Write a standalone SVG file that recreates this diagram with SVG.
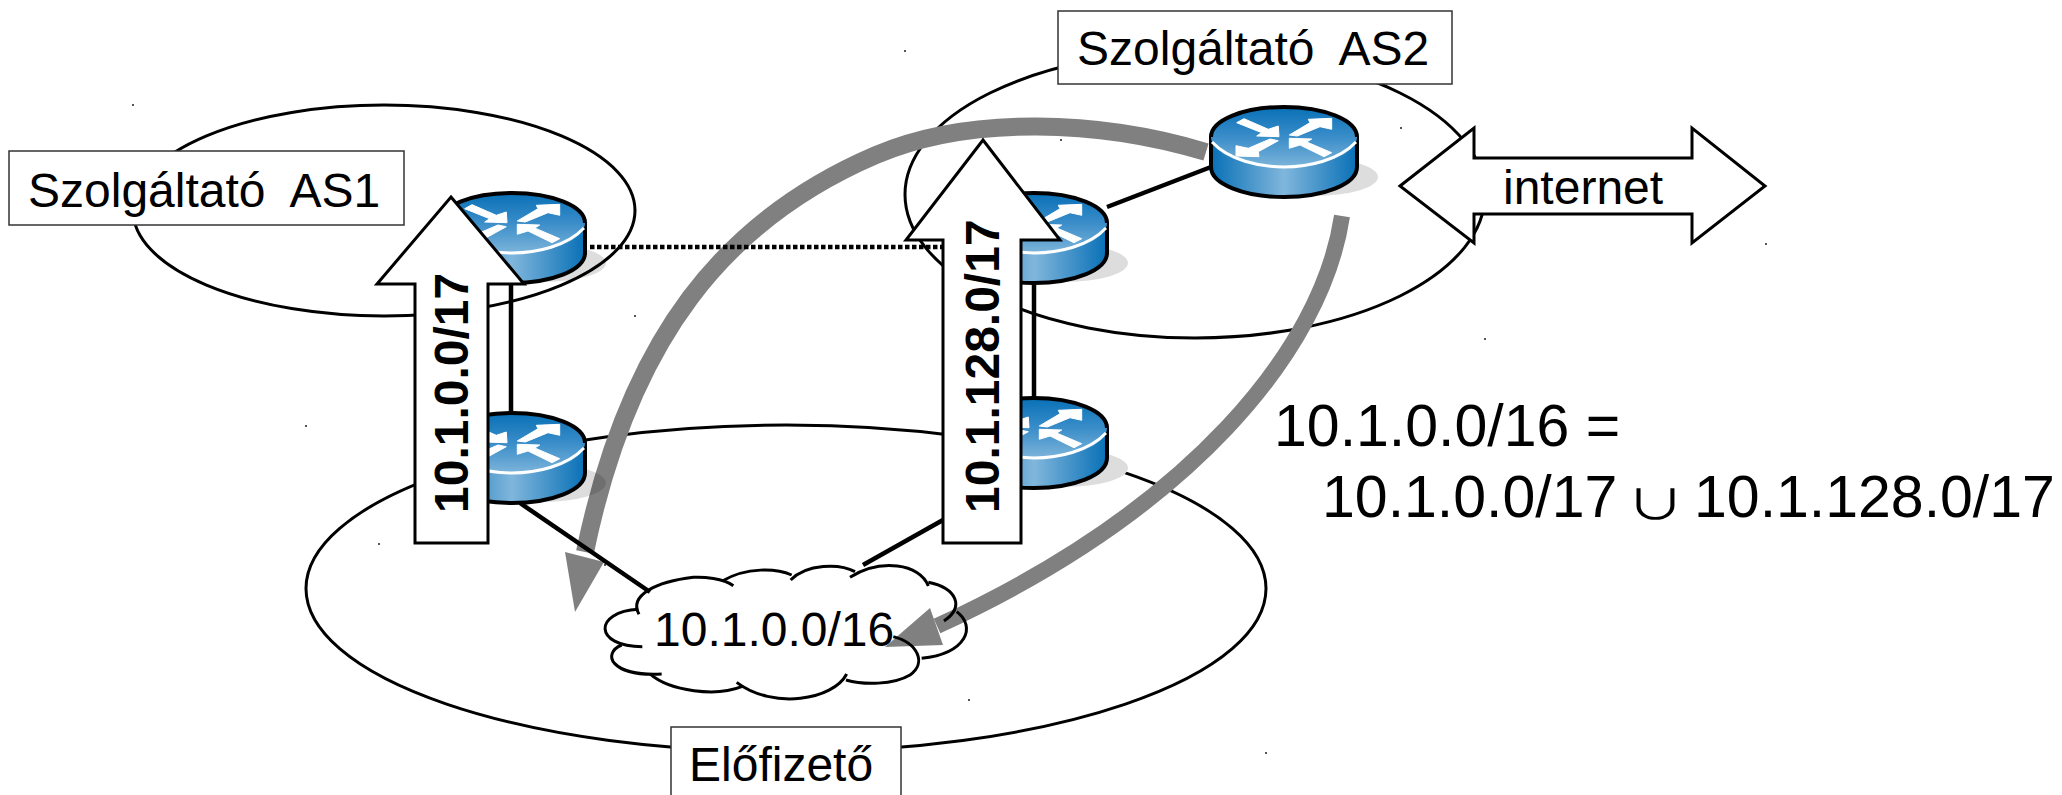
<svg xmlns="http://www.w3.org/2000/svg" width="2062" height="795" viewBox="0 0 2062 795">
<style>
text{font-family:"Liberation Sans",Arial,sans-serif;font-size:48px;fill:#000;white-space:pre}
.ell{fill:none;stroke:#000;stroke-width:3}
.lab{fill:#fff;stroke:#333;stroke-width:1.5}
.big{font-size:59px}
.sym{font-family:"Noto Sans CJK SC",sans-serif}
.bold{font-weight:bold}
.arr{fill:#fff;stroke:#000;stroke-width:3;stroke-linejoin:miter}
.gr{fill:none;stroke:#808080}
.grh{fill:#808080}
.con{stroke:#000;stroke-width:4.5;fill:none}
.lobe{fill:none;stroke:#000;stroke-width:9}
.sp{fill:#555}
</style>
<defs>
<linearGradient id="gt" x1="0" y1="0" x2="0" y2="1"><stop offset="0" stop-color="#0870b6"/><stop offset=".5" stop-color="#3a8dc9"/><stop offset="1" stop-color="#7cb4da"/></linearGradient>
<linearGradient id="gs" x1="0" y1="0" x2="1" y2="0"><stop offset="0" stop-color="#0870b6"/><stop offset=".5" stop-color="#80b6dc"/><stop offset="1" stop-color="#0870b6"/></linearGradient>
<g id="rt">
<path d="M-73 0V30C-73 47-40 60 0 60S73 47 73 30V0Z" fill="url(#gs)"/>
<path d="M-73 0V30C-73 47-40 60 0 60S73 47 73 30V0" fill="none" stroke="#000" stroke-width="4"/>
<ellipse cx="0" cy="0" rx="73" ry="30" fill="url(#gt)"/>
<path d="M-73 0C-73 -17-40 -30 0 -30S73 -17 73 0" fill="none" stroke="#000" stroke-width="4"/>
<path d="M-72 5C-55 23-25 30 0 30S55 23 72 5" fill="none" stroke="#fff" stroke-width="3"/>
<g fill="#fff" stroke="#fff" stroke-width="1">
<polygon points="-47.3,-14.3 -40,-18.3 -15.7,-7.7 -5.7,-11 -5,-.3 -27.3,-1 -22.3,-4.3"/>
<polygon points="5.3,-2 26,-14.3 24.3,-17.7 47.7,-18.7 47.7,-7.7 36,-10.3 13.3,-1"/>
<polygon points="-5.7,3.7 -25.7,14.7 -25,19.7 -48,19 -48,8.7 -35.7,11.3 -14,2"/>
<polygon points="47.7,15.7 40,19.7 16,8 5.3,11.3 5.3,1.3 27.7,2 22.7,5"/>
</g>
</g>
</defs>
<rect width="2062" height="795" fill="#fff"/>

<g id="domains">
<ellipse id="as1-area" class="ell" cx="384" cy="210.500" rx="251" ry="105.500"/>
<ellipse id="as2-area" class="ell" cx="1195" cy="194.500" rx="290" ry="143.500"/>
<ellipse id="sub-area" class="ell" cx="786" cy="588.500" rx="480" ry="163.500"/>
</g>

<g id="marks" class="sp">
<rect x="132" y="104" width="2" height="2"/><rect x="904" y="50" width="2" height="2"/><rect x="1060" y="139" width="2" height="2"/>
<rect x="1400" y="127" width="2" height="2"/><rect x="634" y="315" width="2" height="2"/><rect x="968" y="699" width="2" height="2"/>
<rect x="604" y="564" width="2" height="2"/><rect x="1765" y="243" width="2" height="2"/><rect x="1484" y="338" width="2" height="2"/>
<rect x="1265" y="752" width="2" height="2"/><rect x="378" y="543" width="2" height="2"/><rect x="305" y="425" width="2" height="2"/>
</g>

<g id="cloud">
<g transform="translate(560 520) scale(.33333)">
<path fill="#fff" d="M237 280C205 225 290 185 400 172C430 170 470 175 487 183C560 140 650 145 695 165C740 130 840 130 885 155C960 115 1080 130 1105 190C1190 205 1215 245 1190 275C1250 320 1220 400 1085 415C1080 450 1000 500 858 480C820 540 640 570 540 500C470 530 330 515 270 462C150 470 125 400 185 375C100 350 120 275 235 268Z"/>
</g>
</g>

<g id="connectors">
<path class="gr" stroke-width="18" d="M1206 152C1100 120 970 115 876 155C724 220 629 339 585 552"/>
<polygon class="grh" points="565,552 575,612 604,562"/>
<path class="gr" stroke-width="16" d="M1342 216C1322 350 1190 510 937 626"/>
<polygon class="grh" points="930,608 943,645 885,647"/>
<path class="con" d="M511 284V413"/>
<path class="con" d="M1034 284V398"/>
<path class="con" d="M1107 207L1211 167"/>
<path class="con" d="M520 503L650 592"/>
<path class="con" d="M863 565L943 520"/>
<path d="M590 247H943" fill="none" stroke="#000" stroke-width="4.500" stroke-dasharray="4.500 2.500"/>
</g>

<g id="cloud-outline">
<g transform="translate(560 520) scale(.33333)" >
<path class="lobe" d="M237 283C205 225 290 185 400 172C430 170 490 175 520 197"/>
<path class="lobe" d="M487 183C560 140 650 145 695 165"/>
<path class="lobe" d="M692 180C740 130 840 130 885 155"/>
<path class="lobe" d="M870 172C960 115 1080 130 1105 198"/>
<path class="lobe" d="M1105 187C1190 205 1215 260 1152 303"/>
<path class="lobe" d="M1190 275C1250 320 1220 400 1085 415"/>
<path class="lobe" d="M1000 350C1075 370 1100 430 1050 465C1000 495 910 495 858 480"/>
<path class="lobe" d="M860 462C820 540 640 570 530 487"/>
<path class="lobe" d="M545 500C470 530 330 515 270 462"/>
<path class="lobe" d="M305 462C150 470 125 400 185 375"/>
<path class="lobe" d="M247 380C100 380 100 275 235 268"/>
</g>
<text id="cloud-label" x="654" y="646">10.1.0.0/16</text>
</g>

<g id="router-as2-edge"><ellipse cx="1314" cy="177" rx="64" ry="19" fill="#000" opacity=".135"/><use href="#rt" x="1284" y="137"/></g>
<g id="router-as1"><ellipse cx="542" cy="263" rx="64" ry="19" fill="#000" opacity=".135"/><use href="#rt" x="512" y="223"/></g>
<g id="router-sub-left"><ellipse cx="542" cy="483" rx="64" ry="19" fill="#000" opacity=".135"/><use href="#rt" x="512" y="443"/></g>
<g id="router-as2"><ellipse cx="1064" cy="263" rx="64" ry="19" fill="#000" opacity=".135"/><use href="#rt" x="1034" y="223"/></g>
<g id="router-sub-right"><ellipse cx="1064" cy="468" rx="64" ry="19" fill="#ddd"/><use href="#rt" x="1034" y="428"/></g>

<g id="prefix-as1">
<polygon class="arr" points="451,197 524,284 488,284 488,543 415,543 415,284 377,284"/>
<text class="bold" transform="translate(468 513) rotate(-90)">10.1.0.0/17</text>
</g>
<g id="prefix-as2">
<polygon class="arr" points="983,140 1060,240 1021,240 1021,543 943,543 943,240 906,240"/>
<text class="bold" transform="translate(999 513) rotate(-90)">10.1.128.0/17</text>
</g>

<g id="internet">
<polygon class="arr" points="1400,186 1474,128 1474,158 1692,158 1692,128 1765,186 1692,243 1692,214 1474,214 1474,243"/>
<text x="1503" y="204">internet</text>
</g>

<g id="label-as1"><rect class="lab" x="9" y="151" width="395" height="74"/><text x="28" y="207">Szolgáltató  AS1</text></g>
<g id="label-as2"><rect class="lab" x="1058" y="11" width="394" height="73"/><text x="1077" y="65">Szolgáltató  AS2</text></g>
<g id="label-sub"><rect class="lab" x="671" y="727" width="230" height="80"/><text x="689" y="781">Előfizető</text></g>

<g id="equation">
<text class="big" x="1274" y="446">10.1.0.0/16 =</text>
<text class="big" x="1322" y="517">10.1.0.0/17</text>
<text class="big sym" transform="translate(1626 519) scale(1 .7)">∪</text>
<text class="big" x="1694" y="517">10.1.128.0/17</text>
</g>
</svg>
